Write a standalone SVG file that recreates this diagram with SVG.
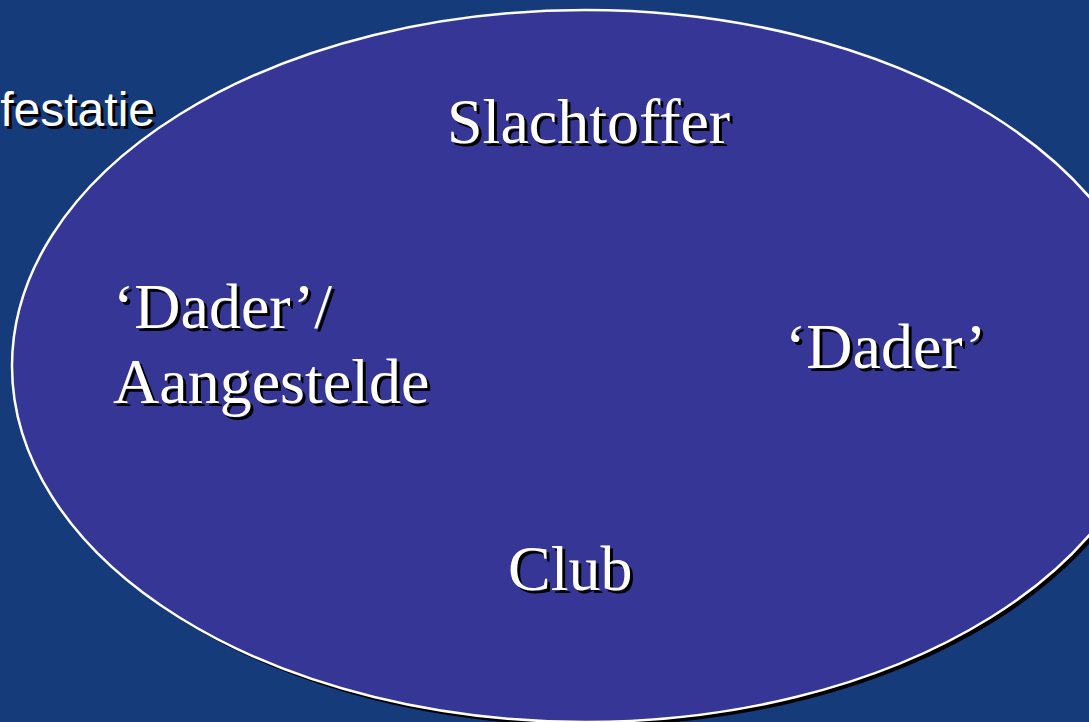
<svg xmlns="http://www.w3.org/2000/svg" width="1089" height="722" viewBox="0 0 1089 722">
<style>
.t{font-family:"Liberation Serif","Times New Roman",serif;font-size:64px}
.s{fill:#000}
.w{fill:#fff}
.a{font-family:"Liberation Sans",Arial,sans-serif;font-size:48px}
</style>
<rect width="1089" height="722" fill="#163b7a"/>
<g id="ellipse">
<ellipse cx="589" cy="370" rx="573" ry="356" fill="#000"/>
<ellipse cx="585" cy="366" rx="573" ry="356" fill="#363696" stroke="#fff" stroke-width="2.5"/>
</g>
<g id="festatie" class="a">
<text x="158" y="129" text-anchor="end" class="s">festatie</text>
<text x="155" y="126" text-anchor="end" class="w">festatie</text>
</g>
<g id="slachtoffer" class="t">
<text x="450" y="146" class="s">Slachtoffer</text>
<text x="447" y="143" class="w">Slachtoffer</text>
</g>
<g id="aangestelde" class="t">
<text x="116" y="331" class="s">‘Dader’/</text>
<text x="113" y="328" class="w">‘Dader’/</text>
<text x="116" y="406" class="s">Aangestelde</text>
<text x="113" y="403" class="w">Aangestelde</text>
</g>
<g id="dader" class="t">
<text x="788" y="371" class="s">‘Dader’</text>
<text x="785" y="368" class="w">‘Dader’</text>
</g>
<g id="club" class="t">
<text x="511" y="593" class="s">Club</text>
<text x="508" y="590" class="w">Club</text>
</g>
<g id="connectors"/>
</svg>
